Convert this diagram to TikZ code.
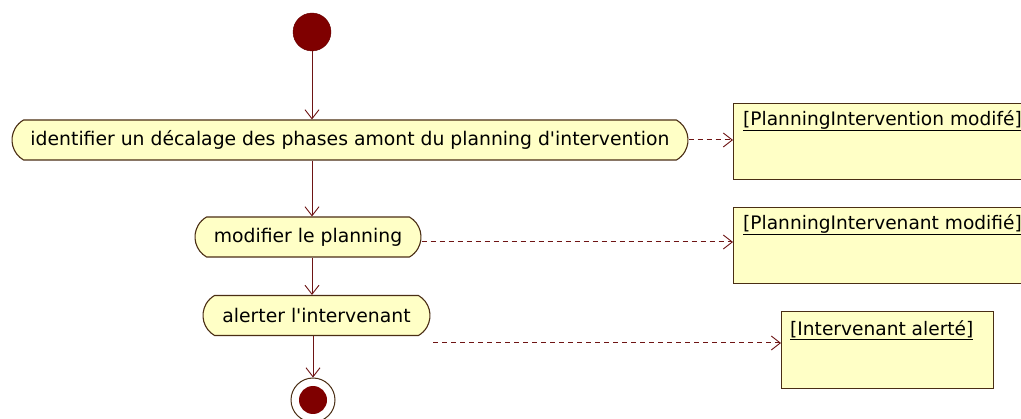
\documentclass[tikz,border=0pt]{standalone}
\usepackage{fontspec}
\setmainfont{DejaVu Sans}
\usetikzlibrary{arrows.meta,shapes.misc}
\definecolor{fillY}{HTML}{FFFFC6}
\definecolor{edgeB}{HTML}{4A2E14}
\definecolor{arr}{HTML}{6E1414}
\definecolor{dotR}{HTML}{7F0000}
\tikzset{
  action/.style={rounded rectangle, rounded rectangle arc length=120, draw=edgeB, fill=fillY, line width=1.1pt,
    minimum height=40pt, inner xsep=0pt, inner ysep=0pt, font=\fontsize{18.8}{21}\selectfont},
  objbox/.style={rectangle, draw=edgeB, fill=fillY, line width=1.1pt, anchor=north west, inner sep=0pt},
  objtext/.style={anchor=north west, inner sep=0pt, font=\fontsize{18.6}{21}\selectfont},
  flow/.style={draw=arr, line width=1pt, -{Straight Barb[length=9pt,width=14pt,line width=0.9pt]}},
  dep/.style={draw=arr, line width=1pt, dash pattern=on 5pt off 4pt, -{Straight Barb[length=9pt,width=14pt,line width=0.9pt]}},
  initnode/.style={circle, fill=dotR, draw=dotR!80!black, minimum size=38pt, inner sep=0pt},
  finring/.style={circle, draw=edgeB, line width=1pt, minimum size=44pt, inner sep=0pt},
  findot/.style={circle, fill=dotR, minimum size=28pt, inner sep=0pt}
}
\begin{document}
\begin{tikzpicture}[x=1pt,y=-1pt]
\useasboundingbox (0,0) rectangle (1021,419);
\fill[white] (0,0) rectangle (1021,419);
\clip (0,0) rectangle (1021,419);

\node[initnode] (start) at (312,32) {};

\node[action, minimum width=676pt] (a1) at (350,140) {identifier un décalage des phases amont du planning d\textquotesingle intervention};
\node[action, minimum width=226pt] (a2) at (308,237) {modifier le planning};
\node[action, minimum width=227pt] (a3) at (316.5,315.5) {alerter l\textquotesingle intervenant};

\node[finring] (fin) at (313,400) {};
\node[findot] (findot) at (fin) {};

\node[objbox, minimum width=330pt, minimum height=76pt] (o1) at (733,103) {};
\node[objtext] (t1) at ([shift={(10,7)}]o1.north west) {\underline{[PlanningIntervention modifé]}};
\node[objbox, minimum width=330pt, minimum height=76pt] (o2) at (733,207) {};
\node[objtext] (t2) at ([shift={(10,7)}]o2.north west) {\underline{[PlanningIntervenant modifié]}};
\node[objbox, minimum width=212pt, minimum height=77pt] (o3) at (781,311) {};
\node[objtext] (t3) at ([shift={(9,9)}]o3.north west) {\underline{[Intervenant alerté]}};

\coordinate (c2) at ([yshift=-5pt]a2.east);
\coordinate (c3) at (433,343);

\draw[flow] (start) -- (start |- a1.north);
\draw[flow] (a1.south -| start) -- (a2.north -| start);
\draw[flow] (a2.south -| start) -- (a3.north -| start);
\draw[flow] (a3.south -| fin) -- (fin.north);

\draw[dep] (a1.east) -- (o1.west |- a1.east);
\draw[dep] (c2) -- (o2.west |- c2);
\draw[dep] (c3) -- (o3.west |- c3);
\end{tikzpicture}
\end{document}
